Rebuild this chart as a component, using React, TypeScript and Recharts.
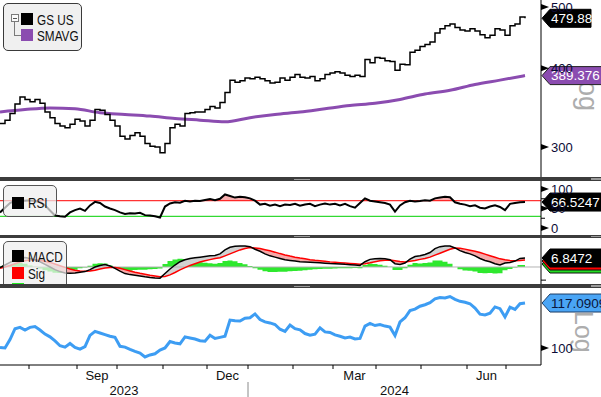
import React from 'react';
import { Area, ComposedChart, Line, ReferenceLine, XAxis, YAxis } from 'recharts';

const FONT = '"Liberation Sans", Arial, sans-serif';

// GS US, Jul 2023 - Jul 2024, one sample every ~2.4 sessions
const PRICE = [
  327, 331, 339, 351, 360, 357, 354, 357, 352, 341, 334, 327, 324, 322, 326, 332, 330, 324, 331, 344,
  343, 338, 331, 324, 312, 309, 313, 316, 312, 304, 301, 300, 294, 304, 322, 326, 324, 339, 340, 341,
  341, 344, 348, 346, 353, 366, 383, 380, 382, 386, 385, 387, 385, 382, 379, 380, 386, 383, 387, 391,
  387, 386, 388, 382, 385, 391, 393, 395, 393, 390, 388, 390, 388, 413, 408, 416, 415, 411, 410, 397,
  406, 405, 424, 427, 433, 436, 440, 455, 462, 467, 470, 464, 460, 458, 462, 458, 452, 447, 451, 462,
  460, 451, 467, 470, 482, 479.88,
];
// one SMAVG point every 5 samples
const SMAVG = [341, 344, 346, 345, 340, 338, 336, 333, 331, 329, 334, 338, 341, 345, 349, 352, 357, 364, 369, 377, 383, 389.376];

const RSI = [
  40, 52, 64, 70, 71, 70, 71, 69, 66, 58, 45, 32, 30, 29, 40, 46, 50, 44, 58, 67,
  64, 55, 50, 46, 40, 36, 38, 37, 39, 33, 32, 30, 27, 55, 63, 66, 65, 70, 68, 70,
  69, 72, 74, 71, 75, 86, 82, 78, 80, 79, 76, 70, 60, 62, 57, 60, 56, 60, 59, 62,
  57, 60, 62, 56, 60, 63, 60, 62, 58, 62, 56, 52, 64, 76, 70, 68, 66, 64, 60, 42,
  58, 66, 70, 68, 69, 71, 70, 76, 78, 80, 79, 66, 62, 60, 56, 58, 52, 50, 55, 58,
  54, 46, 62, 64, 66, 66.5247,
];
const MACD = [
  -0.5, 1.5, 3.5, 5.5, 6.8, 7.2, 6.5, 5.5, 4, 2, 0, -2, -3.5, -4.5, -4.8, -4.5, -4, -3.5, -2, 0,
  1.2, 1.8, 0.8, -1, -3.2, -5, -5.8, -6.2, -6.8, -7.5, -8, -8.3, -8.5, -5, -1.5, 1.5, 4, 5.5, 6.5, 7,
  7.5, 8, 8.5, 8.8, 10, 13, 15, 15.8, 16, 16, 15.5, 13.5, 12, 10, 8.5, 7.5, 6.5, 5.5, 5, 4.5,
  4, 3.8, 3.6, 3.4, 3.2, 2.9, 2.6, 2.5, 2.3, 2, 1.8, 1.6, 1.2, 4, 5.8, 6.2, 6.5, 6.2, 5.5, 2.5,
  2, 3, 6, 8, 8.5, 9.5, 11, 14, 15.5, 16, 16, 14.5, 12.5, 11, 10, 8.5, 6.5, 5, 4, 2.5,
  1.5, 3, 3.5, 4.5, 6.5, 6.8472,
];
const SIG = [
  -1, 0, 1.2, 2.5, 3.8, 4.8, 5.3, 5.4, 5.1, 4.4, 3.5, 2.3, 1, -0.3, -1.5, -2.4, -3, -3.2, -3, -2.4,
  -1.6, -0.8, -0.3, -0.4, -1, -2, -3, -4, -4.8, -5.5, -6.2, -6.8, -7.4, -7.2, -6, -4.2, -2.2, -0.5, 1.2, 2.5,
  3.8, 4.8, 5.6, 6.4, 7, 8.5, 10, 11.5, 13, 14, 14.8, 14.5, 14, 13.2, 12.3, 11.3, 10.2, 9.2, 8.3, 7.5,
  6.8, 6.2, 5.6, 5.1, 4.7, 4.3, 3.9, 3.6, 3.3, 3, 2.7, 2.4, 2.1, 2.5, 3.2, 4, 4.7, 5.2, 5.3, 4.8,
  4.2, 3.9, 4.3, 5, 5.8, 6.5, 7.5, 9, 10.5, 12, 13.5, 14.5, 14.2, 13.6, 12.8, 12, 11, 9.8, 8.6, 7.4,
  6.2, 5.5, 5, 4.8, 5, 5.4,
];
const REL = [
  100.2, 100, 103, 107, 107.5, 106.5, 107.5, 107.8, 106.5, 105, 104, 102.5, 100.8, 100.3, 101.6, 100.2, 99.6, 100.5, 104.5, 106,
  105.4, 104.8, 104.2, 103.8, 100.6, 100.3, 99.5, 98.8, 98.2, 96.9, 97.6, 98, 99.3, 100, 102.3, 101.8, 101.5, 104, 103.6, 103.2,
  102.6, 102.4, 104.6, 103.4, 103.8, 104.2, 110.3, 110, 109.9, 111, 111.2, 112.7, 110.5, 109.6, 109.2, 108.6, 106.8, 106, 108.4, 107,
  106.6, 105.2, 104.6, 105, 107.3, 105.8, 105.6, 104.7, 104.2, 103.6, 103.9, 103.2, 103.4, 108, 109, 108.2, 108.6, 108, 107.6, 104.5,
  109.6, 111.2, 114, 114.6, 115.8, 116.4, 117.2, 118.8, 119.4, 119.2, 119.8, 118.6, 117.8, 117.4, 116.8, 115, 112.6, 112.3, 113, 115.5,
  114.8, 111.5, 115.4, 114.5, 116.8, 117.0909,
];

// x-axis positions in sample units
const MONTH_STARTS = [5.8, 15.4, 23.4, 32.6, 41.4, 49.6, 58.6, 66.6, 75.2, 84.2, 93.4, 101.2];
const MONTH_MID = [19.4, 45.5, 70.9, 97.3];
const MONTH_NAMES = ['Sep', 'Dec', 'Mar', 'Jun'];
const YEAR_MID = [24.8, 78.9];
const YEAR_NAMES = ['2023', '2024'];
const YEAR_BREAK = 49.6;

const RSI_HI = 70;
const RSI_LO = 30;

const X_DOMAIN = [0, 108.2];
const M0 = { top: 0, right: 0, bottom: 0, left: 0 };
const AXIS = { stroke: '#000' };
const last = (a: number[]) => a[a.length - 1];

const rows = PRICE.map((p, i) => ({
  i,
  price: p,
  sma: i % 5 === 0 ? SMAVG[i / 5] : null,
  rsi: RSI[i],
  macd: MACD[i],
  sig: SIG[i],
  diff: MACD[i] - SIG[i],
  rel: REL[i],
}));

type TagOpts = { text: string; bg: string; fg: string; w: number; edge?: string; under?: string[] };

function tagLabel(o: TagOpts) {
  return (props: any) => {
    const vb = props.viewBox || {};
    const x = (vb.x ?? 0) + (vb.width ?? 0) + 1;
    const y = vb.y ?? 0;
    const shape = (dy: number) =>
      `M${x},${y + dy} L${x + 8},${y + dy - 9} L${x + o.w},${y + dy - 9} L${x + o.w},${y + dy + 9} L${x + 8},${y + dy + 9} Z`;
    const under = o.under || [];
    return (
      <g>
        {under.map((c, k) => (
          <path key={k} d={shape(3 * (under.length - k))} fill={c} stroke="#111" strokeWidth={1} />
        ))}
        <path d={shape(0)} fill={o.bg} stroke={o.edge || o.bg} strokeWidth={1} />
        <text x={x + 9} y={y} dy="0.36em" fill={o.fg} fontSize={13.5} fontFamily={FONT}>
          {o.text}
        </text>
      </g>
    );
  };
}

function ValueTick(props: any) {
  const { x, y, payload } = props;
  return (
    <g>
      <path d={`M${x},${y - 3} L${x + 8},${y} L${x},${y + 3} Z`} fill="#000" />
      <text x={x + 10} y={y} dy="0.36em" fontSize={13} fontFamily={FONT} fill="#0b0b36">
        {payload.value}
      </text>
    </g>
  );
}

function RsiTick(props: any) {
  const { x, y, payload } = props;
  if (payload.value % 50 !== 0) return <line x1={x} x2={x + 4} y1={y} y2={y} stroke="#000" />;
  return <ValueTick {...props} />;
}

function MinorTick(props: any) {
  const { x, y } = props;
  return <line x1={x} x2={x + 5} y1={y} y2={y} stroke="#000" />;
}

function MonthTick(props: any) {
  const { x, y, payload } = props;
  const k = MONTH_MID.indexOf(payload.value);
  return (
    <text x={x} y={y} dy="0.74em" textAnchor="middle" fontSize={13} fontFamily={FONT} fill="#111">
      {MONTH_NAMES[k]}
    </text>
  );
}

function YearTick(props: any) {
  const { x, y, payload } = props;
  if (payload.value === YEAR_BREAK) return <line x1={x} x2={x} y1={y - 3} y2={y + 12} stroke="#8a8a8a" />;
  const k = YEAR_MID.indexOf(payload.value);
  return (
    <text x={x} y={y} dy="0.74em" textAnchor="middle" fontSize={13} fontFamily={FONT} fill="#111">
      {YEAR_NAMES[k]}
    </text>
  );
}

function Divider({ top, h }: { top: number; h: number }) {
  return (
    <div style={{ position: 'absolute', left: 0, top, width: 601, height: h, background: '#3c3c3c' }}>
      <div style={{ position: 'absolute', left: 294, top: Math.floor(h / 2), width: 16, height: 1, background: '#9a9a9a' }} />
      <div style={{ position: 'absolute', left: 591, top: 1, width: 10, height: 1, background: '#9a9a9a' }} />
      <div style={{ position: 'absolute', left: 591, top: h - 2, width: 10, height: 1, background: '#9a9a9a' }} />
    </div>
  );
}

function LogMark({ left, top, size }: { left: number; top: number; size: number }) {
  return (
    <div style={{ position: 'absolute', left, top, fontSize: size, lineHeight: 1, color: '#adadad', writingMode: 'vertical-rl' }}>
      Log
    </div>
  );
}

const legendText: React.CSSProperties = {
  position: 'absolute',
  fontSize: 14,
  lineHeight: '14px',
  color: '#111',
  whiteSpace: 'nowrap',
  transform: 'scaleX(0.84)',
  transformOrigin: 'left center',
};

function Sw({ left, top, color }: { left: number; top: number; color: string }) {
  return <div style={{ position: 'absolute', left, top, width: 12, height: 12, background: color }} />;
}

const boxStyle: React.CSSProperties = {
  position: 'absolute',
  boxSizing: 'border-box',
  border: '1px solid #555',
  borderRadius: 5,
};

export default function App() {
  return (
    <div style={{ position: 'absolute', left: 0, top: 0, width: 601, height: 397, overflow: 'hidden', background: '#fff', fontFamily: FONT }}>
      <LogMark left={574} top={66} size={27} />
      <LogMark left={571} top={311} size={25} />

      {/* price + SMAVG */}
      <div style={{ position: 'absolute', left: 0, top: 0 }}>
        <ComposedChart width={601} height={177} data={rows} margin={M0}>
          <XAxis dataKey="i" type="number" domain={X_DOMAIN} allowDataOverflow hide />
          <YAxis
            orientation="right"
            width={60}
            type="number"
            scale="log"
            domain={[269, 513]}
            allowDataOverflow
            ticks={[300, 400, 500]}
            interval={0}
            tick={<ValueTick />}
            tickLine={false}
            tickSize={0}
            tickMargin={0}
            axisLine={AXIS}
          />
          <Line dataKey="sma" type="monotone" connectNulls stroke="#8b4cb0" strokeWidth={3} dot={false} activeDot={false} isAnimationActive={false} />
          <Line dataKey="price" type="stepAfter" stroke="#000" strokeWidth={1.5} dot={false} activeDot={false} isAnimationActive={false} />
          <ReferenceLine y={last(SMAVG)} stroke="none" label={tagLabel({ text: String(last(SMAVG)), bg: '#8b4cb0', fg: '#fff', w: 60, edge: '#222' })} />
          <ReferenceLine y={last(PRICE)} stroke="none" label={tagLabel({ text: String(last(PRICE)), bg: '#000', fg: '#fff', w: 49 })} />
        </ComposedChart>
      </div>

      <Divider top={177} h={4} />

      {/* RSI */}
      <div style={{ position: 'absolute', left: 0, top: 181 }}>
        <ComposedChart width={601} height={54} data={rows} margin={M0}>
          <XAxis dataKey="i" type="number" domain={X_DOMAIN} allowDataOverflow hide />
          <YAxis
            orientation="right"
            width={60}
            type="number"
            domain={[-17.9, 120.5]}
            allowDataOverflow
            ticks={[0, 25, 50, 75, 100]}
            interval={0}
            tick={<RsiTick />}
            tickLine={false}
            tickSize={0}
            tickMargin={0}
            axisLine={AXIS}
          />
          <Area dataKey={(d: any) => [RSI_HI, Math.max(RSI_HI, d.rsi)]} stroke="none" fill="#f6aeae" fillOpacity={1} activeDot={false} isAnimationActive={false} />
          <Area dataKey={(d: any) => [Math.min(RSI_LO, d.rsi), RSI_LO]} stroke="none" fill="#bdeebd" fillOpacity={1} activeDot={false} isAnimationActive={false} />
          <ReferenceLine y={RSI_HI} stroke="#ff0000" />
          <ReferenceLine y={RSI_LO} stroke="#00d000" />
          <Line dataKey="rsi" stroke="#000" strokeWidth={2} dot={false} activeDot={false} isAnimationActive={false} />
          <ReferenceLine y={last(RSI)} stroke="none" label={tagLabel({ text: String(last(RSI)), bg: '#000', fg: '#fff', w: 60 })} />
        </ComposedChart>
      </div>

      <Divider top={235} h={3} />

      {/* MACD */}
      <div style={{ position: 'absolute', left: 0, top: 238 }}>
        <ComposedChart width={601} height={46} data={rows} margin={M0}>
          <XAxis dataKey="i" type="number" domain={X_DOMAIN} allowDataOverflow hide />
          <YAxis
            orientation="right"
            width={60}
            type="number"
            domain={[-12.94, 22.07]}
            allowDataOverflow
            ticks={[-10]}
            interval={0}
            tick={<MinorTick />}
            tickLine={false}
            tickSize={0}
            tickMargin={0}
            axisLine={AXIS}
          />
          <ReferenceLine y={0} stroke="#b4b4b4" />
          <Area dataKey="diff" type="step" baseValue={0} stroke="none" fill="#2ee82e" fillOpacity={1} activeDot={false} isAnimationActive={false} />
          <Area dataKey={(d: any) => [d.sig, Math.max(d.macd, d.sig)]} stroke="none" fill="#d2d2d2" fillOpacity={1} activeDot={false} isAnimationActive={false} />
          <Area dataKey={(d: any) => [d.macd, Math.max(d.macd, d.sig)]} stroke="none" fill="#f5a8a8" fillOpacity={1} activeDot={false} isAnimationActive={false} />
          <Line dataKey="sig" stroke="#ff0000" strokeWidth={1.5} dot={false} activeDot={false} isAnimationActive={false} />
          <Line dataKey="macd" stroke="#000" strokeWidth={1.5} dot={false} activeDot={false} isAnimationActive={false} />
          <ReferenceLine
            y={last(MACD)}
            stroke="none"
            label={tagLabel({ text: String(last(MACD)), bg: '#000', fg: '#fff', w: 60, under: ['#22dd22', '#ff0000'] })}
          />
        </ComposedChart>
      </div>

      <Divider top={284} h={4} />

      {/* relative performance */}
      <div style={{ position: 'absolute', left: 0, top: 288 }}>
        <ComposedChart width={601} height={109} data={rows} margin={M0}>
          <XAxis
            xAxisId={0}
            dataKey="i"
            type="number"
            domain={X_DOMAIN}
            allowDataOverflow
            ticks={MONTH_STARTS}
            interval={0}
            tickFormatter={() => ''}
            tickSize={4}
            tickMargin={0}
            height={5}
            axisLine={AXIS}
            tickLine={AXIS}
          />
          <XAxis
            xAxisId={1}
            dataKey="i"
            type="number"
            domain={X_DOMAIN}
            allowDataOverflow
            ticks={MONTH_MID}
            interval={0}
            tick={<MonthTick />}
            tickSize={0}
            tickMargin={0}
            height={15}
            axisLine={false}
            tickLine={false}
          />
          <XAxis
            xAxisId={2}
            dataKey="i"
            type="number"
            domain={X_DOMAIN}
            allowDataOverflow
            ticks={[YEAR_MID[0], YEAR_BREAK, YEAR_MID[1]]}
            interval={0}
            tick={<YearTick />}
            tickSize={0}
            tickMargin={0}
            height={12}
            axisLine={false}
            tickLine={false}
          />
          <YAxis
            orientation="right"
            width={60}
            type="number"
            scale="log"
            domain={[94.21, 123.43]}
            allowDataOverflow
            ticks={[100]}
            interval={0}
            tick={<ValueTick />}
            tickLine={false}
            tickSize={0}
            tickMargin={0}
            axisLine={AXIS}
          />
          <Line xAxisId={0} dataKey="rel" stroke="#3d9df3" strokeWidth={3} dot={false} activeDot={false} isAnimationActive={false} />
          <ReferenceLine
            xAxisId={0}
            y={last(REL)}
            stroke="none"
            label={tagLabel({ text: String(last(REL)), bg: '#4aa5f5', fg: '#0a163c', w: 62, edge: '#1c3d66' })}
          />
        </ComposedChart>
      </div>

      {/* legends */}
      <div style={{ ...boxStyle, left: 3, top: 3, width: 79, height: 48, background: '#f0f0f0', borderColor: '#3a3a3a' }}>
        <div style={{ position: 'absolute', left: 7, top: 10, width: 6, height: 6, border: '1px solid #7a7a7a', background: '#fafafa' }}>
          <div style={{ position: 'absolute', left: 1, top: 2.5, width: 4, height: 1, background: '#555' }} />
        </div>
        <div style={{ position: 'absolute', left: 10, top: 18, width: 1, height: 13, background: '#7a7a7a' }} />
        <div style={{ position: 'absolute', left: 10, top: 31, width: 7, height: 1, background: '#7a7a7a' }} />
        <Sw left={17} top={9} color="#000" />
        <div style={{ ...legendText, left: 33, top: 9 }}>GS US</div>
        <Sw left={17} top={25} color="#8b4cb0" />
        <div style={{ ...legendText, left: 33, top: 25 }}>SMAVG</div>
      </div>

      <div style={{ ...boxStyle, left: 3, top: 185, width: 54, height: 32, background: 'rgba(238,238,238,0.72)' }}>
        <Sw left={8} top={11} color="#000" />
        <div style={{ ...legendText, left: 24, top: 10 }}>RSI</div>
      </div>

      <div style={{ position: 'absolute', left: 0, top: 238, width: 541, height: 46, overflow: 'hidden' }}>
        <div style={{ ...boxStyle, left: 3, top: 3, width: 64, height: 58, background: 'rgba(238,238,238,0.72)' }}>
          <Sw left={8} top={8} color="#000" />
          <div style={{ ...legendText, left: 24, top: 8 }}>MACD</div>
          <Sw left={8} top={25} color="#ff0000" />
          <div style={{ ...legendText, left: 24, top: 25 }}>Sig</div>
          <Sw left={8} top={41} color="#22ee22" />
          <div style={{ ...legendText, left: 24, top: 41 }}>Diff</div>
        </div>
      </div>
    </div>
  );
}
